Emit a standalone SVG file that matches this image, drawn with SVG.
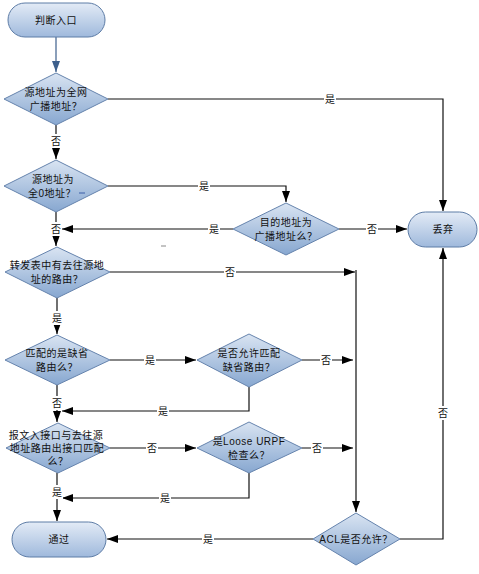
<svg xmlns="http://www.w3.org/2000/svg" width="479" height="574" viewBox="0 0 479 574">
<defs>
<linearGradient id="gPill" x1="0" y1="0" x2="0" y2="1">
<stop offset="0" stop-color="#e3ebf6"/>
<stop offset="1" stop-color="#9fb9dc"/>
</linearGradient>
<linearGradient id="gDia" x1="0" y1="0" x2="0" y2="1">
<stop offset="0" stop-color="#d9e4f2"/>
<stop offset="1" stop-color="#87a7d0"/>
</linearGradient>
<marker id="arr" markerUnits="userSpaceOnUse" markerWidth="12" markerHeight="8" refX="11" refY="4" orient="auto">
<path d="M0,0 L11,4 L0,8 Z" fill="#000"/>
</marker>
<marker id="arrB" markerUnits="userSpaceOnUse" markerWidth="12" markerHeight="8" refX="11" refY="4" orient="auto">
<path d="M0,0 L11,4 L0,8 Z" fill="#3d5f8c"/>
</marker>
</defs>
<style>
.pill{fill:url(#gPill);stroke:#5d7ca6;stroke-width:1}
.dia{fill:url(#gDia);stroke:#6583ad;stroke-width:1}
.t{font-family:"Liberation Sans","Noto Sans CJK SC",sans-serif;font-size:10px;fill:#111;text-anchor:middle;letter-spacing:0.5px}
.c{fill:none;stroke:#111;stroke-width:1.2}
.lb{fill:#fff}
.l{font-family:"Liberation Sans","Noto Sans CJK SC",sans-serif;font-size:10px;fill:#111;text-anchor:middle}
</style>
<rect width="479" height="574" fill="#fff"/>

<g id="connectors">
<path class="c" d="M56,37 V72" stroke="#3d5f8c" style="stroke:#3d5f8c" marker-end="url(#arrB)"/>
<path class="c" d="M56,125 V159" marker-end="url(#arr)"/>
<path class="c" d="M108,99 H443 V211" marker-end="url(#arr)"/>
<path class="c" d="M108,186 H286 V202" marker-end="url(#arr)"/>
<path class="c" d="M56,212 V246" marker-end="url(#arr)"/>
<path class="c" d="M233,229 H62" marker-end="url(#arr)"/>
<path class="c" d="M339,229 H407" marker-end="url(#arr)"/>
<path class="c" d="M110,272 H355" marker-end="url(#arr)"/>
<path class="c" d="M356,270 V512" marker-end="url(#arr)"/>
<path class="c" d="M57,298 V334" marker-end="url(#arr)"/>
<path class="c" d="M110,360 H196" marker-end="url(#arr)"/>
<path class="c" d="M302,360 H353" marker-end="url(#arr)"/>
<path class="c" d="M249,387 V411 H62" marker-end="url(#arr)"/>
<path class="c" d="M57,385 V422" marker-end="url(#arr)"/>
<path class="c" d="M110,448 H196" marker-end="url(#arr)"/>
<path class="c" d="M302,448 H353" marker-end="url(#arr)"/>
<path class="c" d="M249,473 V498 H62" marker-end="url(#arr)"/>
<path class="c" d="M57,473 V521" marker-end="url(#arr)"/>
<path class="c" d="M313,539 H107" marker-end="url(#arr)"/>
<path class="c" d="M400,539 H443 V248" marker-end="url(#arr)"/>

<g id="labels">
<rect class="lb" x="324" y="92" width="12" height="14"/><text class="l" x="330" y="103">是</text>
<rect class="lb" x="50" y="134" width="12" height="14"/><text class="l" x="56" y="145">否</text>
<rect class="lb" x="198" y="179" width="12" height="14"/><text class="l" x="204" y="190">是</text>
<rect class="lb" x="50" y="222" width="12" height="14"/><text class="l" x="56" y="233">否</text>
<rect class="lb" x="208" y="222" width="12" height="14"/><text class="l" x="214" y="233">是</text>
<rect class="lb" x="366" y="222" width="12" height="14"/><text class="l" x="372" y="233">否</text>
<rect class="lb" x="224" y="265" width="12" height="14"/><text class="l" x="230" y="276">否</text>
<rect class="lb" x="51" y="311" width="12" height="14"/><text class="l" x="57" y="322">是</text>
<rect class="lb" x="144" y="353" width="12" height="14"/><text class="l" x="150" y="364">是</text>
<rect class="lb" x="320" y="353" width="12" height="14"/><text class="l" x="326" y="364">否</text>
<rect class="lb" x="51" y="396" width="12" height="14"/><text class="l" x="57" y="407">否</text>
<rect class="lb" x="157" y="404" width="12" height="14"/><text class="l" x="163" y="415">是</text>
<rect class="lb" x="146" y="441" width="12" height="14"/><text class="l" x="152" y="452">否</text>
<rect class="lb" x="311" y="441" width="12" height="14"/><text class="l" x="317" y="452">否</text>
<rect class="lb" x="51" y="485" width="12" height="14"/><text class="l" x="57" y="496">是</text>
<rect class="lb" x="159" y="491" width="12" height="14"/><text class="l" x="165" y="502">是</text>
<rect class="lb" x="202" y="532" width="12" height="14"/><text class="l" x="208" y="543">是</text>
<rect class="lb" x="437" y="406" width="12" height="14"/><text class="l" x="443" y="417">否</text>
</g>
</g>

<g id="start">
<rect class="pill" x="8" y="3" width="97" height="34" rx="17" ry="17"/>
<text class="t" x="56" y="24">判断入口</text>
</g>
<g id="d1">
<polygon class="dia" points="4,99 56,73 108,99 56,125"/>
<text class="t" x="56" y="96">源地址为全网</text>
<text class="t" x="56" y="110">广播地址？</text>
</g>
<g id="d2">
<polygon class="dia" points="4,186 56,160 108,186 56,212"/>
<text class="t" x="53" y="183">源地址为</text>
<text class="t" x="52" y="197">全0地址？</text>
<line x1="79" y1="193" x2="85" y2="193" stroke="#3b5ea8" stroke-width="1"/>
</g>
<g id="d3">
<polygon class="dia" points="233,229 286,203 339,229 286,255"/>
<text class="t" x="286" y="226">目的地址为</text>
<text class="t" x="286" y="240">广播地址么？</text>
</g>
<g id="discard">
<rect class="pill" x="408" y="212" width="69" height="35" rx="17.5" ry="17.5"/>
<text class="t" x="443" y="233">丢弃</text>
</g>
<line x1="161" y1="246" x2="166" y2="246" stroke="#888" stroke-width="1"/>
<g id="d4">
<polygon class="dia" points="5,272 57,247 110,272 57,298"/>
<text class="t" x="57" y="269">转发表中有去往源地</text>
<text class="t" x="57" y="283">址的路由？</text>
</g>
<g id="d5">
<polygon class="dia" points="5,360 57,335 110,360 57,385"/>
<text class="t" x="57" y="357">匹配的是缺省</text>
<text class="t" x="57" y="371">路由么？</text>
</g>
<g id="d6">
<polygon class="dia" points="197,360 249,334 302,360 249,387"/>
<text class="t" x="249" y="357">是否允许匹配</text>
<text class="t" x="249" y="371">缺省路由？</text>
</g>
<g id="d7">
<polygon class="dia" points="6,448 58,423 110,448 58,473"/>
<text class="t" x="56" y="439">报文入接口与去往源</text>
<text class="t" x="57" y="452">地址路由出接口匹配</text>
<text class="t" x="58" y="465">么？</text>
</g>
<g id="d8">
<polygon class="dia" points="197,448 249,422 302,448 249,473"/>
<text class="t" x="249" y="445">是Loose URPF</text>
<text class="t" x="249" y="459">检查么？</text>
</g>
<g id="pass">
<rect class="pill" x="12" y="522" width="94" height="35" rx="17.5" ry="17.5"/>
<text class="t" x="59" y="543">通过</text>
</g>
<g id="acl">
<polygon class="dia" points="313,539 356,513 400,539 356,565"/>
<text class="t" x="356" y="543">ACL是否允许？</text>
</g>
</svg>
